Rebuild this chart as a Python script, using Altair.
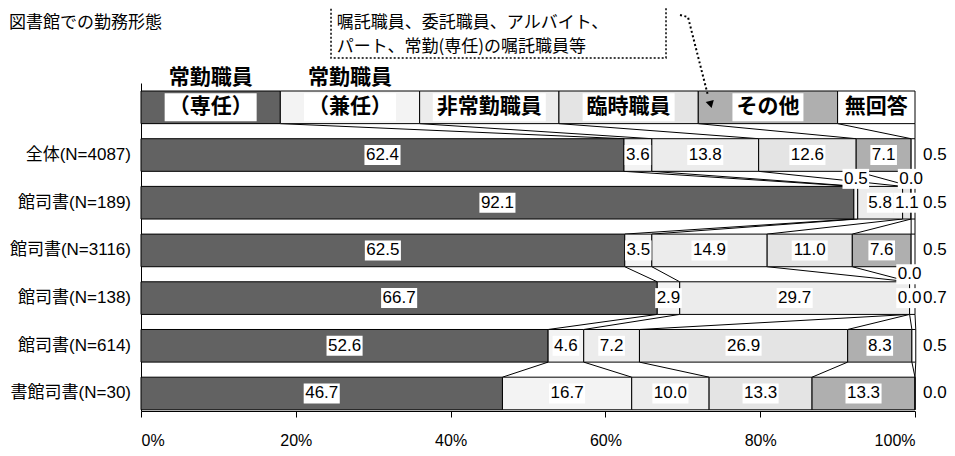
import altair as alt
import pandas as pd

# ---------------- data ----------------
categories = ["常勤職員（専任）", "常勤職員（兼任）", "非常勤職員", "臨時職員", "その他", "無回答"]
row_labels = ["全体(N=4087)", "館司書(N=189)", "館司書(N=3116)", "館司書(N=138)", "館司書(N=614)", "書館司書(N=30)"]
sennin = [62.4, 92.1, 62.5, 66.7, 52.6, 46.7]
kennin = [3.6, 0.5, 3.5, 2.9, 4.6, 16.7]
hijokin = [13.8, 5.8, 14.9, 29.7, 7.2, 10.0]
rinji = [12.6, 1.1, 11.0, 0.0, 26.9, 13.3]
sonota = [7.1, 0.0, 7.6, 0.0, 8.3, 13.3]
mukaito = [0.5, 0.5, 0.5, 0.7, 0.5, 0.0]
legend_widths = [18, 18, 18, 18, 18, 10]
legend_top = ["常勤職員", "常勤職員", "", "", "", ""]
legend_main = ["（専任）", "（兼任）", "非常勤職員", "臨時職員", "その他", "無回答"]
tick_values = [0, 20, 40, 60, 80, 100]
note_lines = ["嘱託職員、委託職員、アルバイト、", "パート、常勤(専任)の嘱託職員等"]
title_text = "図書館での勤務形態"

# ---------------- style ----------------
fills = ["#626262", "#f3f3f3", "#ececec", "#e4e4e4", "#afafaf", "#ffffff"]
LAT = "Liberation Sans, Noto Sans CJK JP"
CJK = "Noto Sans CJK JP"
W, H = 774, 328
PX = W / 100.0          # px per percent
ROW = 47.7              # px per row
HB = 0.342              # half bar height (rows)
above = {(1, 1), (1, 4), (3, 3)}   # labels placed above their bar

series = [sennin, kennin, hijokin, rinji, sonota, mukaito]

# ---------------- tables ----------------
seg, ends = [], []
cum, e = 0.0, []
for c, w in enumerate(legend_widths):
    seg.append(dict(cat=categories[c], x0=cum, x1=cum + w, y0=-HB, y1=HB))
    cum += w
    e.append(cum)
ends.append(e)
for r in range(len(row_labels)):
    cum, e = 0.0, []
    for c in range(len(categories)):
        v = series[c][r]
        seg.append(dict(cat=categories[c], x0=cum, x1=cum + v, y0=r + 1 - HB, y1=r + 1 + HB))
        cum += v
        e.append(cum)
    ends.append(e)
seg = pd.DataFrame(seg)

conn = []
for i in range(len(ends) - 1):
    for c in range(len(categories)):
        conn.append(dict(xa=ends[i][c], ya=i + HB, xb=ends[i + 1][c], yb=i + 1 - HB))
conn = pd.DataFrame(conn)

lab, rlab = [], []
for r in range(len(row_labels)):
    for c in range(len(categories)):
        v = series[c][r]
        t = f"{v:.1f}"
        if c == len(categories) - 1:
            rlab.append(dict(t=t, x=100.0, y=r + 1))
            continue
        mid = ends[r + 1][c] - v / 2
        y = r + 1 - (0.5 if (r, c) in above else 0.0)
        nd = sum(ch.isdigit() for ch in t)
        wpx = (nd * 0.556 + 0.278) * 17 + 3
        hw = wpx / 2 / PX
        lab.append(dict(t=t, x=mid, y=y, bx0=mid - hw, bx1=mid + hw, by0=y - 10 / ROW, by1=y + 10 / ROW))
lab = pd.DataFrame(lab)
rlab = pd.DataFrame(rlab)

leg = []
for c in range(len(categories)):
    mid = ends[0][c] - legend_widths[c] / 2
    hw = (len(legend_main[c]) * 21 + 8) / 2 / PX
    leg.append(dict(t=legend_main[c], top=legend_top[c], x=mid, y=0.0, ytop=-29 / ROW,
                    bx0=mid - hw, bx1=mid + hw, by0=-14 / ROW, by1=14 / ROW))
leg = pd.DataFrame(leg)

cats = pd.DataFrame(dict(t=row_labels, y=list(range(1, len(row_labels) + 1))))

note = pd.DataFrame(dict(t=note_lines, x=[25.3, 25.3], y=[-1.767, -1.264]))
note_box = pd.DataFrame(dict(x0=[24.55], x1=[67.83], y0=[-2.6], y1=[-1.034]))
arrow = pd.DataFrame(dict(i=[0, 1, 2], x=[69.64, 70.67, 73.2], y=[-1.935, -1.893, -0.28]))
head = pd.DataFrame(dict(x=[73.6], y=[-0.06]))

# ---------------- scales / axes ----------------
xs = alt.Scale(domain=[0, 100], nice=False, zero=False)
ys = alt.Scale(domain=[-0.51, 6.367], nice=False, zero=False, reverse=True)
xa = alt.Axis(values=tick_values, labelExpr="datum.value + '%'", tickSize=6, tickColor="black",
              domainColor="black", labelColor="black", labelFontSize=16, labelFont="Liberation Sans",
              labelPadding=15, grid=False, orient="bottom")
ya = alt.Axis(labels=False, ticks=False, grid=False, domainColor="black", orient="left")


def X(f):
    return alt.X(f"{f}:Q", scale=xs, axis=xa, title=None)


def Y(f):
    return alt.Y(f"{f}:Q", scale=ys, axis=ya, title=None)


connectors = alt.Chart(conn).mark_rule(color="black", strokeWidth=1).encode(
    x=X("xa"), y=Y("ya"), x2="xb:Q", y2="yb:Q")

bars = alt.Chart(seg).mark_rect(stroke="black", strokeWidth=1).encode(
    x=X("x0"), x2="x1:Q", y=Y("y0"), y2="y1:Q",
    color=alt.Color("cat:N", scale=alt.Scale(domain=categories, range=fills), legend=None))

lab_box = alt.Chart(lab).mark_rect(color="white").encode(
    x=X("bx0"), x2="bx1:Q", y=Y("by0"), y2="by1:Q")
lab_txt = alt.Chart(lab).mark_text(font=LAT, fontSize=17, color="black", align="center",
                                   baseline="middle").encode(x=X("x"), y=Y("y"), text="t:N")
rlab_txt = alt.Chart(rlab).mark_text(font=LAT, fontSize=17, color="black", align="left",
                                     baseline="middle", dx=8).encode(x=X("x"), y=Y("y"), text="t:N")

leg_box = alt.Chart(leg).mark_rect(color="white").encode(
    x=X("bx0"), x2="bx1:Q", y=Y("by0"), y2="by1:Q")
leg_txt = alt.Chart(leg).mark_text(font=CJK, fontSize=21, fontWeight="bold", color="black",
                                   align="center", baseline="middle").encode(x=X("x"), y=Y("y"), text="t:N")
leg_top = alt.Chart(leg).mark_text(font=CJK, fontSize=21, fontWeight="bold", color="black",
                                   align="center", baseline="middle").encode(x=X("x"), y=Y("ytop"), text="top:N")

cat_txt = alt.Chart(cats).mark_text(font=LAT, fontSize=17, color="black", align="right",
                                    baseline="middle").encode(x=alt.value(-10), y=Y("y"), text="t:N")

nbox = alt.Chart(note_box).mark_rect(fillOpacity=0, stroke="black", strokeWidth=1.5,
                                     strokeDash=[2, 2]).encode(x=X("x0"), x2="x1:Q", y=Y("y0"), y2="y1:Q")
ntxt = alt.Chart(note).mark_text(font=CJK, fontSize=17, color="black", align="left",
                                 baseline="middle").encode(x=X("x"), y=Y("y"), text="t:N")
aline = alt.Chart(arrow).mark_line(color="black", strokeWidth=2, strokeDash=[2, 2.5]).encode(
    x=X("x"), y=Y("y"), order="i:Q")
ahead = alt.Chart(head).mark_point(shape="triangle-down", filled=True, color="black", opacity=1,
                                   size=70, angle=345).encode(x=X("x"), y=Y("y"))

ttl = alt.Chart(pd.DataFrame(dict(t=[title_text]))).mark_text(
    font=CJK, fontSize=17, color="black", align="left", baseline="middle").encode(
    x=alt.value(-132), y=alt.value(-60), text="t:N")

chart = alt.layer(connectors, bars, lab_box, lab_txt, rlab_txt, leg_box, leg_txt, leg_top,
                  cat_txt, nbox, ntxt, aline, ahead, ttl).properties(
    width=W, height=H, autosize=alt.AutoSizeParams(type="none"),
    padding={"left": 133, "top": 75, "right": 32, "bottom": 37},
).configure_view(strokeWidth=0)

chart.save("out.html", embed_options={"renderer": "svg", "actions": False})
